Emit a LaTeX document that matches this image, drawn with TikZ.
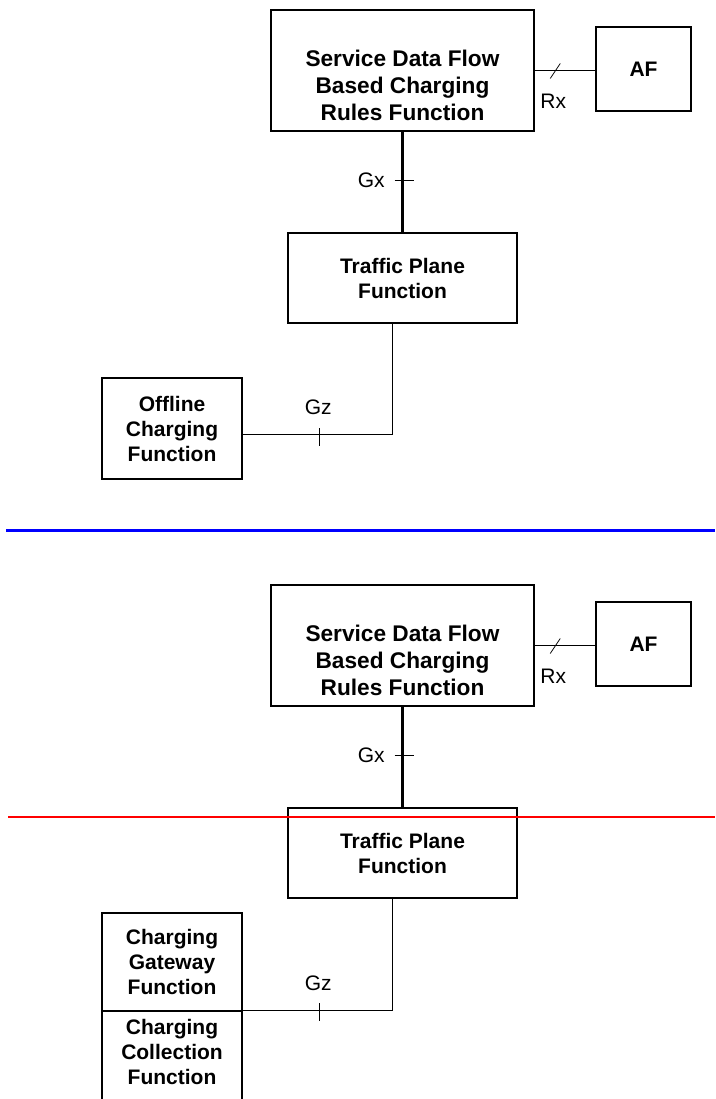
\documentclass[tikz,border=0pt]{standalone}
\usepackage{fontspec}
\setmainfont{Liberation Sans}
\usepackage{tikz}
\usetikzlibrary{calc}
\newcommand{\bebig}{\fontsize{17pt}{20.25pt}\selectfont}
\newcommand{\bemid}{\fontsize{15.75pt}{18.75pt}\selectfont}

\tikzset{
  fbox/.style={draw, line width=0.8pt, inner sep=0pt, align=center, font=\bemid\bfseries},
  ftext/.style={inner sep=0pt, align=center, font=\bebig\bfseries},
  iface/.style={line width=0.6pt},
  ifname/.style={inner sep=0pt, font=\bemid},
}

\begin{document}
\begin{tikzpicture}[x=0.75pt, y=-0.75pt]
\useasboundingbox (0,0) rectangle (715,1099);
\clip (0,0) rectangle (715,1099);

% Upper figure
\node[fbox, minimum width=197.25pt, minimum height=90.75pt] (sdf) at (402.5,70.5) {};
\node[ftext] (sdftext) at (402.5,85.5) {Service Data Flow\\Based Charging\\Rules Function};
\node[fbox, minimum width=71.25pt, minimum height=63pt] (af) at (643.5,69) {AF};
\node[fbox, minimum width=171.75pt, minimum height=67.5pt] (tpf) at (402.5,278) {Traffic Plane\\Function};
\node[fbox, minimum width=105pt, minimum height=75.75pt] (ocf) at (172,428.5) {Offline\\Charging\\Function};

% Rx
\draw[iface] (sdf.east) -- coordinate[pos=0.34] (rxmid) (sdf.east -| af.west);
\draw[iface] ($(rxmid)+(-5,8)$) -- ($(rxmid)+(5,-7)$);
\node[ifname] (rx) at ($(rxmid)+(-2,30.5)$) {Rx};

% Gx
\draw[line width=1.6pt] (sdf.south) -- coordinate[pos=0.48] (gxmid) (tpf.north);
\draw[iface] ($(gxmid)+(-8,0)$) -- ($(gxmid)+(11,0)$);
\node[ifname, anchor=east] (gx) at ($(gxmid)+(-17.5,0)$) {Gx};

% Gz
\coordinate (gzbend) at (392,434);
\draw[iface] (gzbend |- tpf.south) -- (gzbend) -- coordinate[pos=0.487] (gzmid) (gzbend -| ocf.east);
\draw[iface] ($(gzmid)+(0,-6)$) -- ($(gzmid)+(0,12)$);
\node[ifname] (gz) at ($(gzmid)+(-1,-27)$) {Gz};

% Separator
\draw[blue, line width=2.25pt] (6,530) -- (715,530);

% Lower figure
\node[fbox, minimum width=197.25pt, minimum height=90.75pt] (sdf2) at (402.5,645.5) {};
\node[ftext] (sdftext2) at (402.5,660.5) {Service Data Flow\\Based Charging\\Rules Function};
\node[fbox, minimum width=71.25pt, minimum height=63pt] (af2) at (643.5,644) {AF};
\node[fbox, minimum width=171.75pt, minimum height=67.5pt] (tpf2) at (402.5,853) {Traffic Plane\\Function};
\node[fbox, minimum width=105pt, minimum height=73.5pt] (cgf) at (172,962) {Charging\\Gateway\\Function};
\node[fbox, minimum width=105pt, minimum height=75pt] (ccf) at (172,1061) {};
\node[ftext, font=\bemid\bfseries] (ccftext) at (172,1052) {Charging\\Collection\\Function};

% Rx
\draw[iface] (sdf2.east) -- coordinate[pos=0.34] (rxmid2) (sdf2.east -| af2.west);
\draw[iface] ($(rxmid2)+(-5,8)$) -- ($(rxmid2)+(5,-7)$);
\node[ifname] (rx2) at ($(rxmid2)+(-2,30.5)$) {Rx};

% Gx
\draw[line width=1.6pt] (sdf2.south) -- coordinate[pos=0.48] (gxmid2) (tpf2.north);
\draw[iface] ($(gxmid2)+(-8,0)$) -- ($(gxmid2)+(11,0)$);
\node[ifname, anchor=east] (gx2) at ($(gxmid2)+(-17.5,0)$) {Gx};

% Gz
\coordinate (gzbend2) at (392,1010);
\draw[iface] (gzbend2 |- tpf2.south) -- (gzbend2) -- coordinate[pos=0.487] (gzmid2) (gzbend2 -| cgf.east);
\draw[iface] ($(gzmid2)+(0,-7)$) -- ($(gzmid2)+(0,11)$);
\node[ifname] (gz2) at ($(gzmid2)+(-1,-27)$) {Gz};

% Cut line
\draw[red, line width=1.3pt] (8,817) -- (715,817);
\end{tikzpicture}
\end{document}
